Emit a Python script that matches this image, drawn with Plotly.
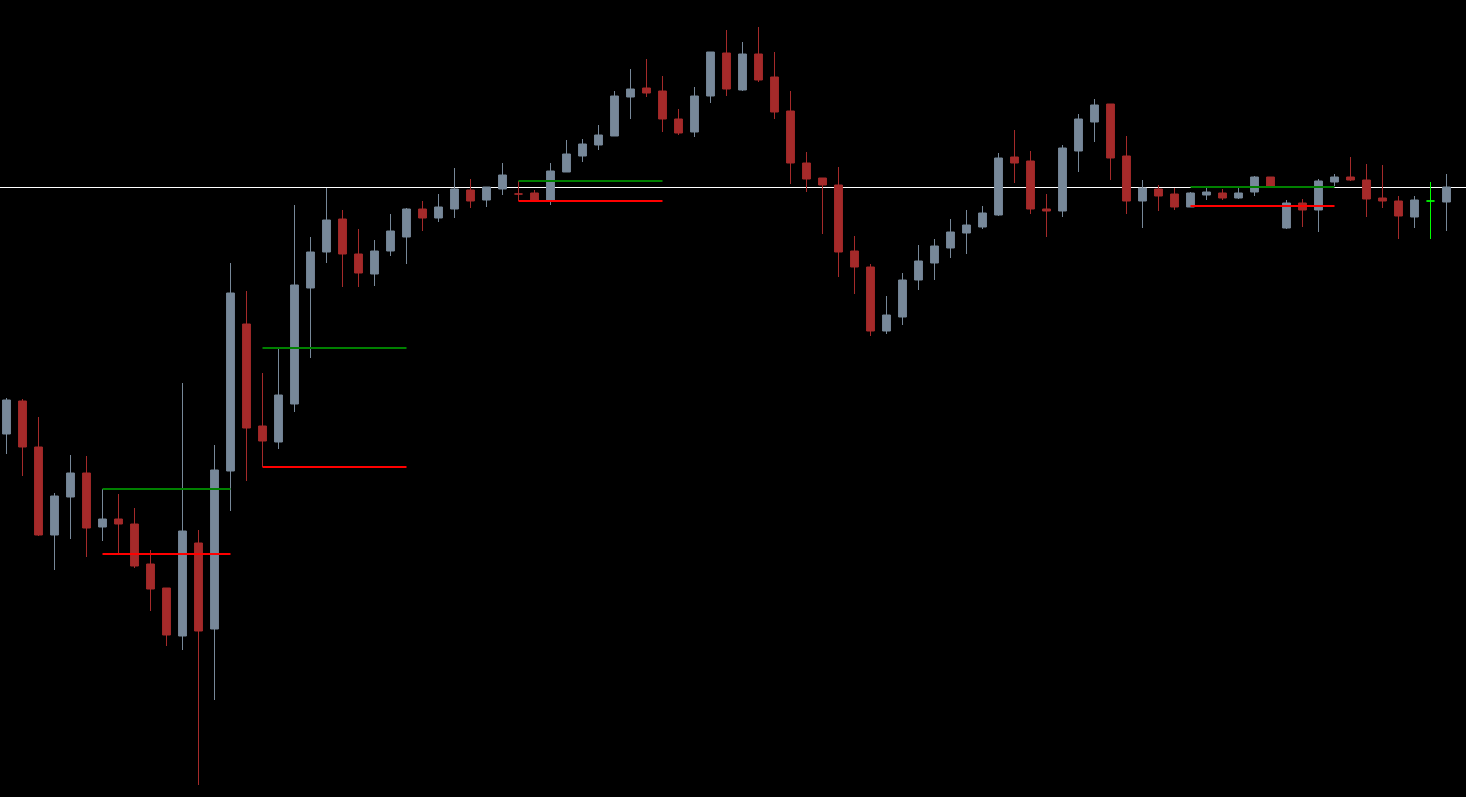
import plotly.graph_objects as go

# Price units: chart-space values (higher = up)
idx = list(range(91))

open_ = [366, 399, 353, 265, 303, 327, 273, 281, 276, 236, 212, 164, 257, 171, 329, 476, 374, 358, 396, 512,
         548, 581, 546, 526, 549, 563, 591, 582, 591, 610, 600, 611, 606, 607, 600, 628, 644, 655, 664, 703,
         712, 709, 681, 668, 704, 747, 710, 746, 723, 689, 637, 622, 615, 549, 533, 469, 483, 520, 537, 552,
         567, 573, 585, 643, 639, 591, 589, 649, 678, 696, 644, 599, 611, 606, 593, 605, 607, 602, 608, 623,
         572, 597, 590, 618, 623, 620, 602, 599, 583, 599, 598]
high_ = [402, 401, 383, 307, 345, 344, 311, 306, 292, 250, 212, 417, 270, 355, 537, 509, 427, 451, 595, 563,
         612, 590, 571, 560, 586, 592, 599, 606, 632, 621, 613, 637, 619, 610, 637, 660, 661, 675, 709, 731,
         741, 724, 691, 713, 748, 770, 758, 773, 748, 709, 648, 622, 633, 564, 536, 504, 527, 555, 561, 581,
         590, 594, 647, 670, 649, 606, 655, 686, 701, 696, 664, 620, 615, 612, 608, 612, 611, 612, 624, 623,
         600, 601, 621, 626, 643, 636, 635, 604, 604, 618, 626]
low_ = [346, 324, 264, 230, 261, 243, 259, 247, 232, 189, 154, 150, 15, 100, 289, 319, 333, 351, 388, 442,
        537, 513, 513, 514, 544, 536, 569, 578, 582, 592, 593, 605, 599, 599, 595, 628, 638, 650, 664, 681,
        703, 668, 665, 663, 697, 704, 709, 718, 681, 616, 608, 566, 523, 506, 464, 466, 475, 510, 520, 542,
        546, 571, 584, 617, 586, 563, 583, 628, 658, 620, 586, 572, 589, 590, 593, 600, 600, 601, 604, 613,
        571, 573, 568, 614, 619, 583, 592, 561, 572, 561, 569]
close_ = [400, 353, 265, 304, 327, 272, 281, 276, 234, 211, 165, 269, 169, 330, 507, 372, 359, 405, 515, 548,
          580, 546, 527, 549, 569, 591, 582, 593, 611, 599, 613, 625, 606, 600, 629, 646, 656, 665, 704, 711,
          707, 681, 667, 704, 748, 711, 746, 720, 688, 637, 621, 615, 548, 533, 469, 485, 520, 539, 554, 568,
          575, 587, 642, 637, 591, 589, 652, 681, 695, 642, 599, 612, 604, 593, 607, 608, 602, 607, 623, 614,
          597, 590, 619, 623, 620, 601, 599, 584, 600, 599, 613]

# the doji drawn in lime (index into candles)
doji_idx = [89]

# horizontal levels: start candle, end candle, upper (green) value, lower (red) value
lvl_start = [6, 16, 32, 74]
lvl_end = [14, 25, 41, 83]
lvl_upper = [311, 452, 619, 613]
lvl_lower = [246, 333, 599, 594]

current_price = 612.5

BULL = "#778899"
BEAR = "#A52A2A"

main_x = [i for i in idx if i not in doji_idx]
fig = go.Figure()
fig.add_shape(type="line", xref="paper", x0=0, x1=1, yref="y",
              y0=current_price, y1=current_price,
              line=dict(color="#FFFFFF", width=1), layer="below")
fig.add_trace(go.Candlestick(
    x=main_x,
    open=[open_[i] for i in main_x], high=[high_[i] for i in main_x],
    low=[low_[i] for i in main_x], close=[close_[i] for i in main_x],
    increasing=dict(line=dict(color=BULL, width=1), fillcolor=BULL),
    decreasing=dict(line=dict(color=BEAR, width=1), fillcolor=BEAR),
    whiskerwidth=0, hoverinfo="skip", showlegend=False,
))
fig.add_trace(go.Candlestick(
    x=doji_idx,
    open=[open_[i] for i in doji_idx], high=[high_[i] for i in doji_idx],
    low=[low_[i] for i in doji_idx], close=[close_[i] for i in doji_idx],
    increasing=dict(line=dict(color="#00FF00", width=1), fillcolor="#00FF00"),
    decreasing=dict(line=dict(color="#00FF00", width=1), fillcolor="#00FF00"),
    whiskerwidth=0, hoverinfo="skip", showlegend=False,
))

for s, e, u, l in zip(lvl_start, lvl_end, lvl_upper, lvl_lower):
    fig.add_trace(go.Scatter(x=[s, e], y=[u, u], mode="lines",
                             line=dict(color="#008000", width=2),
                             hoverinfo="skip", showlegend=False))
    fig.add_trace(go.Scatter(x=[s, e], y=[l, l], mode="lines",
                             line=dict(color="#FF0000", width=2),
                             hoverinfo="skip", showlegend=False))

fig.update_layout(
    width=1466, height=797,
    margin=dict(l=0, r=0, t=0, b=0),
    paper_bgcolor="#000000", plot_bgcolor="#000000",
    showlegend=False,
    xaxis=dict(range=[-0.40625, 91.21875], visible=False, showgrid=False,
               zeroline=False, rangeslider=dict(visible=False)),
    yaxis=dict(range=[3, 800], visible=False, showgrid=False, zeroline=False),
)

fig.write_html("out.html",
               config={"displayModeBar": False},
               post_script="document.body.style.margin='0';"
                           "document.body.style.background='#000';"
                           "document.body.style.overflow='hidden';")
